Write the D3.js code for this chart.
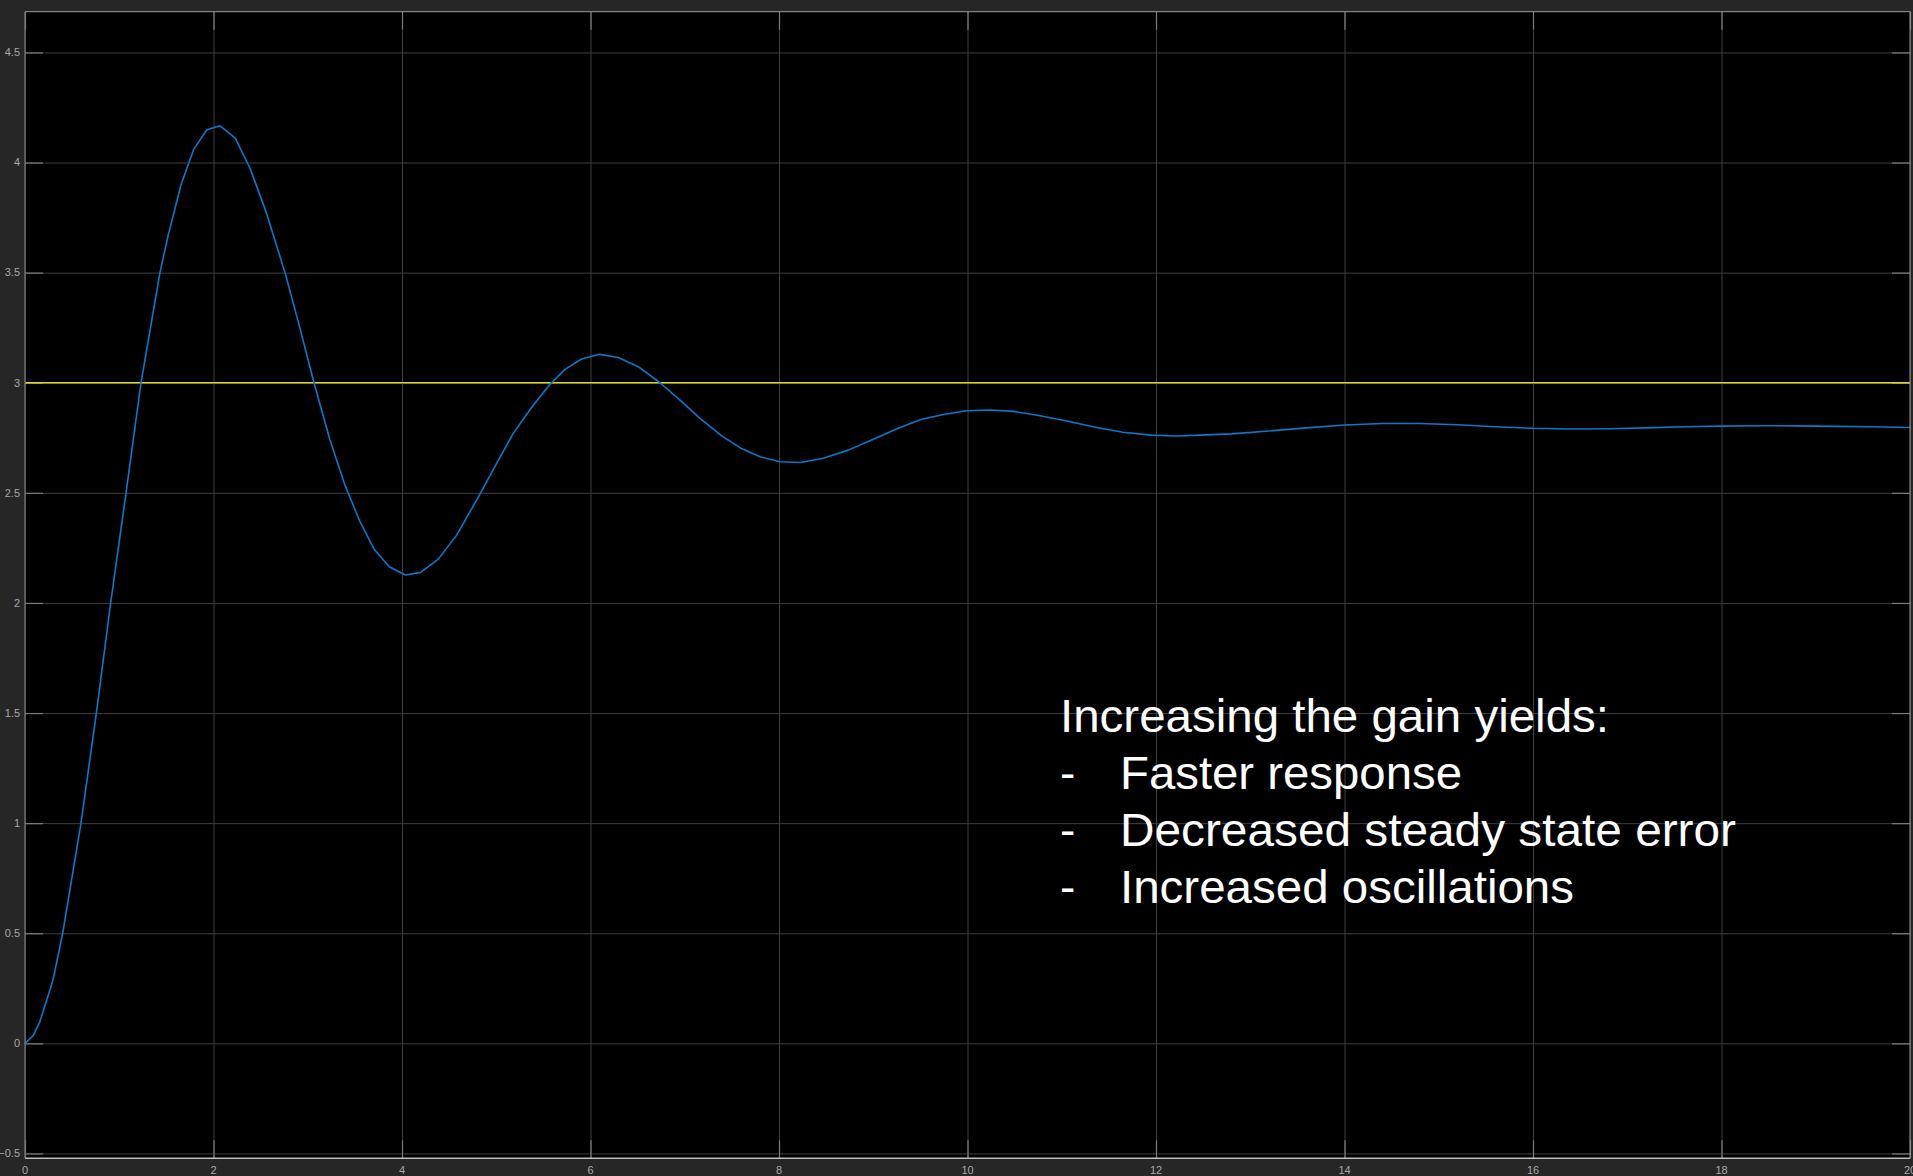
<!DOCTYPE html>
<html>
<head>
<meta charset="utf-8">
<script src="https://cdn.jsdelivr.net/npm/d3@7"></script>
<style>
  html, body { margin: 0; padding: 0; background: #262626; overflow: hidden; }
  svg { display: block; }
</style>
</head>
<body>
<svg id="chart" width="1913" height="1176"></svg>
<script>
// Step response of the closed loop (time in s, output)
const time = [0, 0.088, 0.159, 0.27, 0.30, 0.40, 0.594, 0.757, 0.909, 1.072, 1.231, 1.432, 1.517, 1.655,
  1.79, 1.93, 2.07, 2.231, 2.387, 2.557, 2.759, 2.918, 3.066, 3.236, 3.395, 3.554, 3.706, 3.865, 4.035,
  4.198, 4.385, 4.58, 4.792, 5.0, 5.18, 5.369, 5.563, 5.729, 5.906, 6.097, 6.295, 6.507, 6.737, 6.95,
  7.162, 7.392, 7.604, 7.798, 8.011, 8.223, 8.47, 8.735, 9.0, 9.265, 9.513, 9.76, 9.99, 10.24, 10.49,
  10.77, 11.09, 11.37, 11.65, 11.95, 12.22, 12.47, 12.8, 13.2, 13.6, 14.0, 14.4, 14.8, 15.2, 15.6, 16.0,
  16.4, 16.8, 17.2, 17.6, 18.0, 18.4, 18.8, 19.2, 19.6, 20.0];
const output = [0, 0.035, 0.10, 0.25, 0.294, 0.5, 1.0, 1.5, 2.0, 2.5, 3.0, 3.5, 3.666, 3.898,
  4.06, 4.149, 4.167, 4.111, 3.974, 3.777, 3.5, 3.247, 3.0, 2.74, 2.535, 2.369, 2.243, 2.164, 2.127,
  2.139, 2.199, 2.308, 2.467, 2.63, 2.77, 2.884, 2.99, 3.061, 3.108, 3.129, 3.115, 3.073, 3.0, 2.921,
  2.838, 2.759, 2.701, 2.664, 2.641, 2.638, 2.657, 2.694, 2.743, 2.793, 2.834, 2.857, 2.873, 2.876, 2.870,
  2.850, 2.823, 2.797, 2.775, 2.762, 2.758, 2.762, 2.768, 2.781, 2.795, 2.808, 2.815, 2.815, 2.809, 2.800, 2.793,
  2.790, 2.791, 2.795, 2.800, 2.803, 2.805, 2.804, 2.802, 2.800, 2.797];

// Reference (setpoint) level
const reference = [3, 3];
const referenceTime = [0, 20];

// Axis ticks
const xTicks = [0, 2, 4, 6, 8, 10, 12, 14, 16, 18, 20];
const yTicks = [-0.5, 0, 0.5, 1, 1.5, 2, 2.5, 3, 3.5, 4, 4.5];
const xDomain = [0, 20];
const yDomain = [-0.522, 4.685];

// Annotation text
const noteTitle = "Increasing the gain yields:";
const noteItems = ["Faster response", "Decreased steady state error", "Increased oscillations"];

const svg = d3.select("#chart");
const plotLeft = 25, plotRight = 1910, plotTop = 11.7, plotBottom = 1158.3;

const x = d3.scaleLinear().domain(xDomain).range([plotLeft, plotRight]);
const y = d3.scaleLinear().domain(yDomain).range([plotBottom, plotTop]);

// plot background
svg.append("rect")
  .attr("x", plotLeft).attr("y", plotTop)
  .attr("width", plotRight - plotLeft).attr("height", plotBottom - plotTop)
  .attr("fill", "#000");

// grid
const grid = svg.append("g");
grid.append("g")
  .attr("transform", `translate(0,${plotBottom})`)
  .call(d3.axisBottom(x).tickValues(xTicks).tickSize(-(plotBottom - plotTop)).tickFormat(""))
  .call(g => g.select(".domain").remove())
  .call(g => g.selectAll("line").attr("stroke", "#3e3e3e").attr("stroke-width", 1));
grid.append("g")
  .attr("transform", `translate(${plotLeft},0)`)
  .call(d3.axisLeft(y).tickValues(yTicks).tickSize(-(plotRight - plotLeft)).tickFormat(""))
  .call(g => g.select(".domain").remove())
  .call(g => g.selectAll("line").attr("stroke", "#3e3e3e").attr("stroke-width", 1));

// short inner tick marks on all four sides
const tickLen = 18;
const tickColor = "#7c7c7c";
function innerTicks(axis, tx, ty) {
  svg.append("g")
    .attr("transform", `translate(${tx},${ty})`)
    .call(axis.tickSize(-tickLen).tickFormat(""))
    .call(g => g.select(".domain").remove())
    .call(g => g.selectAll("line").attr("stroke", tickColor).attr("stroke-width", 1.2));
}
innerTicks(d3.axisBottom(x).tickValues(xTicks), 0, plotBottom);
innerTicks(d3.axisTop(x).tickValues(xTicks), 0, plotTop);
innerTicks(d3.axisLeft(y).tickValues(yTicks), plotLeft, 0);
innerTicks(d3.axisRight(y).tickValues(yTicks), plotRight, 0);

// reference line
const line = d3.line().x(d => x(d[0])).y(d => y(d[1]));
svg.append("path")
  .datum(referenceTime.map((t, i) => [t, reference[i]]))
  .attr("d", line)
  .attr("fill", "none")
  .attr("stroke", "#d8d81c")
  .attr("stroke-width", 1.6);

// response curve
svg.append("path")
  .datum(time.map((t, i) => [t, output[i]]))
  .attr("d", line)
  .attr("fill", "none")
  .attr("stroke", "#0b78c9")
  .attr("stroke-width", 1.6)
  .attr("stroke-linejoin", "round");

// frame
svg.append("line").attr("x1", plotLeft).attr("x2", plotRight).attr("y1", plotTop).attr("y2", plotTop)
  .attr("stroke", "#9a9a9a").attr("stroke-width", 1);
svg.append("line").attr("x1", plotLeft).attr("x2", plotRight).attr("y1", plotBottom).attr("y2", plotBottom)
  .attr("stroke", "#bdbdbd").attr("stroke-width", 1.4);
svg.append("line").attr("x1", plotLeft).attr("x2", plotLeft).attr("y1", plotTop).attr("y2", plotBottom)
  .attr("stroke", "#7a7a7a").attr("stroke-width", 1.2);
svg.append("line").attr("x1", plotRight).attr("x2", plotRight).attr("y1", plotTop).attr("y2", plotBottom)
  .attr("stroke", "#9a9a9a").attr("stroke-width", 1);

// tick labels
const labelFont = "'Liberation Sans', Arial, sans-serif";
svg.append("g").selectAll("text")
  .data(yTicks).join("text")
  .attr("x", plotLeft - 5)
  .attr("y", d => y(d))
  .attr("dy", "0.35em")
  .attr("text-anchor", "end")
  .attr("font-family", labelFont)
  .attr("font-size", 11)
  .attr("fill", "#a8a8a8")
  .text(d => d3.format("")(d));
svg.append("g").selectAll("text")
  .data(xTicks).join("text")
  .attr("x", d => x(d))
  .attr("y", plotBottom + 16)
  .attr("text-anchor", "middle")
  .attr("font-family", labelFont)
  .attr("font-size", 11)
  .attr("fill", "#a8a8a8")
  .text(d => d);

// annotation
const note = svg.append("g")
  .attr("font-family", labelFont)
  .attr("font-size", 46)
  .attr("fill", "#ffffff");
note.append("text")
  .attr("x", 1060).attr("y", 732)
  .attr("textLength", 549).attr("lengthAdjust", "spacingAndGlyphs")
  .text(noteTitle);
const itemWidths = [342, 616, 454];
noteItems.forEach((item, i) => {
  const by = 789 + i * 57;
  note.append("text").attr("x", 1060).attr("y", by).text("-");
  note.append("text")
    .attr("x", 1120).attr("y", by)
    .attr("textLength", itemWidths[i]).attr("lengthAdjust", "spacingAndGlyphs")
    .text(item);
});
</script>
</body>
</html>
